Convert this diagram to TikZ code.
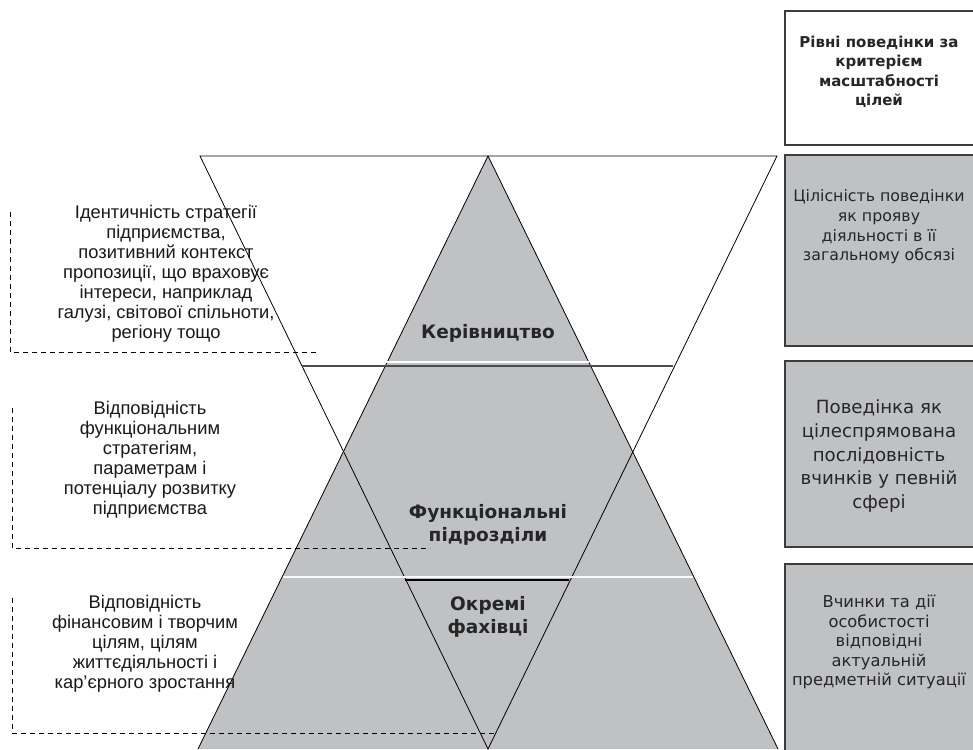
\documentclass[tikz,border=0pt]{standalone}
\usepackage{fontspec}
\setmainfont{Liberation Sans}
\newfontfamily\verd{DejaVu Sans}
\definecolor{pgray}{HTML}{C0C1C3}
\definecolor{bordergray}{HTML}{3C3C3C}
\begin{document}
\begin{tikzpicture}[x=1pt,y=-1pt,
  boxstyle/.style={draw=bordergray,line width=1.8pt,fill=pgray},
  titlebox/.style={draw=bordergray,line width=1.5pt,fill=white},
  tri/.style={draw=black,line width=0.8pt},
  lefttext/.style={align=center,font=\fontsize{18.3}{20}\selectfont,inner sep=0pt,text=black!90},
  boxtext/.style={align=center,inner sep=0pt},
  lbl/.style={align=center,inner sep=0pt,font=\verd\bfseries\fontsize{18.5}{23.5}\selectfont,text=black!85},
  bracket/.style={draw=black,dashed,dash pattern=on 5pt off 4pt,line width=0.8pt}
]
\useasboundingbox (0,0) rectangle (973,749);
\clip (0,0) rectangle (973,749);
\fill[white] (0,0) rectangle (973,749);

% coordinates of the two triangles
\coordinate (apexup) at (488,156);
\coordinate (upbl) at (198,749);
\coordinate (upbr) at (778,749);
\coordinate (invtl) at (200,156);
\coordinate (invtr) at (777,156);
\coordinate (invb) at (488,749);

% gray upward triangle
\fill[pgray] (apexup) -- (upbl) -- (upbr) -- cycle;
\draw[tri] (upbl) -- (apexup) -- (upbr);
% inverted triangle outline
\draw[tri] (invtl) -- (invtr) -- (invb) -- cycle;

% level separators
\coordinate (w1a) at (386,362);
\coordinate (w1b) at (589,362);
\draw[white,line width=1.6pt] (w1a) -- (w1b);
\coordinate (d1a) at (302,366);
\coordinate (d1b) at (673,366);
\draw[black!70,line width=1.6pt] (d1a) -- (d1b);
\coordinate (w2a) at (283,577);
\coordinate (w2b) at (693,577);
\draw[white!95!gray,line width=1.8pt] (w2a) -- (w2b);
\coordinate (d2a) at (405,580);
\coordinate (d2b) at (569,580);
\draw[black,line width=1.1pt] (d2a) -- (d2b);

% labels in the pyramid
\node[lbl] (kerivn) at (488,333) {Керівництво};
\node[lbl] (funk) at (488,525) {Функціональні\\підрозділи};
\node[lbl] (okremi) at (488,617) {Окремі\\фахівці};

% right column boxes
\draw[titlebox] (785,11) rectangle (990,145);
\node[boxtext,font=\verd\bfseries\fontsize{15}{19.5}\selectfont,text=black!85] (title) at (879,72) {Рівні поведінки за\\критерієм\\масштабності\\цілей};
\draw[boxstyle] (785,155) rectangle (990,346);
\node[boxtext,font=\verd\fontsize{15.8}{19.7}\selectfont,text=black!85] (b1) at (879,227) {Цілісність поведінки\\як прояву\\діяльності в її\\загальному обсязі};
\draw[boxstyle] (785,361) rectangle (990,547);
\node[boxtext,font=\verd\fontsize{18.2}{23.8}\selectfont,text=black!85] (b2) at (879,456) {Поведінка як\\цілеспрямована\\послідовність\\вчинків у певній\\сфері};
\draw[boxstyle] (785,564) rectangle (990,760);
\node[boxtext,font=\verd\fontsize{16.3}{19.5}\selectfont,text=black!85] (b3) at (879,642) {Вчинки та дії\\особистості\\відповідні\\актуальній\\предметній ситуації};

% left texts
\node[lefttext] (t1) at (166,274) {Ідентичність стратегії\\підприємства,\\позитивний контекст\\пропозиції, що враховує\\інтереси, наприклад\\галузі, світової спільноти,\\регіону тощо};
\node[lefttext] (t2) at (150,460) {Відповідність\\функціональним\\стратегіям,\\параметрам і\\потенціалу розвитку\\підприємства};
\node[lefttext] (t3) at (145,644) {Відповідність\\фінансовим і творчим\\цілям, цілям\\життєдіяльності і\\кар’єрного зростання};

% dashed brackets
\coordinate (br1t) at (10,212);
\coordinate (br1c) at (10,352);
\coordinate (br1e) at (316,352);
\draw[bracket] (br1t) -- (br1c) -- (br1e);
\coordinate (br2t) at (12,408);
\coordinate (br2c) at (12,548);
\coordinate (br2e) at (430,548);
\draw[bracket] (br2t) -- (br2c) -- (br2e);
\coordinate (br3t) at (12,598);
\coordinate (br3c) at (12,733);
\coordinate (br3e) at (495,733);
\draw[bracket] (br3t) -- (br3c) -- (br3e);
\end{tikzpicture}
\end{document}
